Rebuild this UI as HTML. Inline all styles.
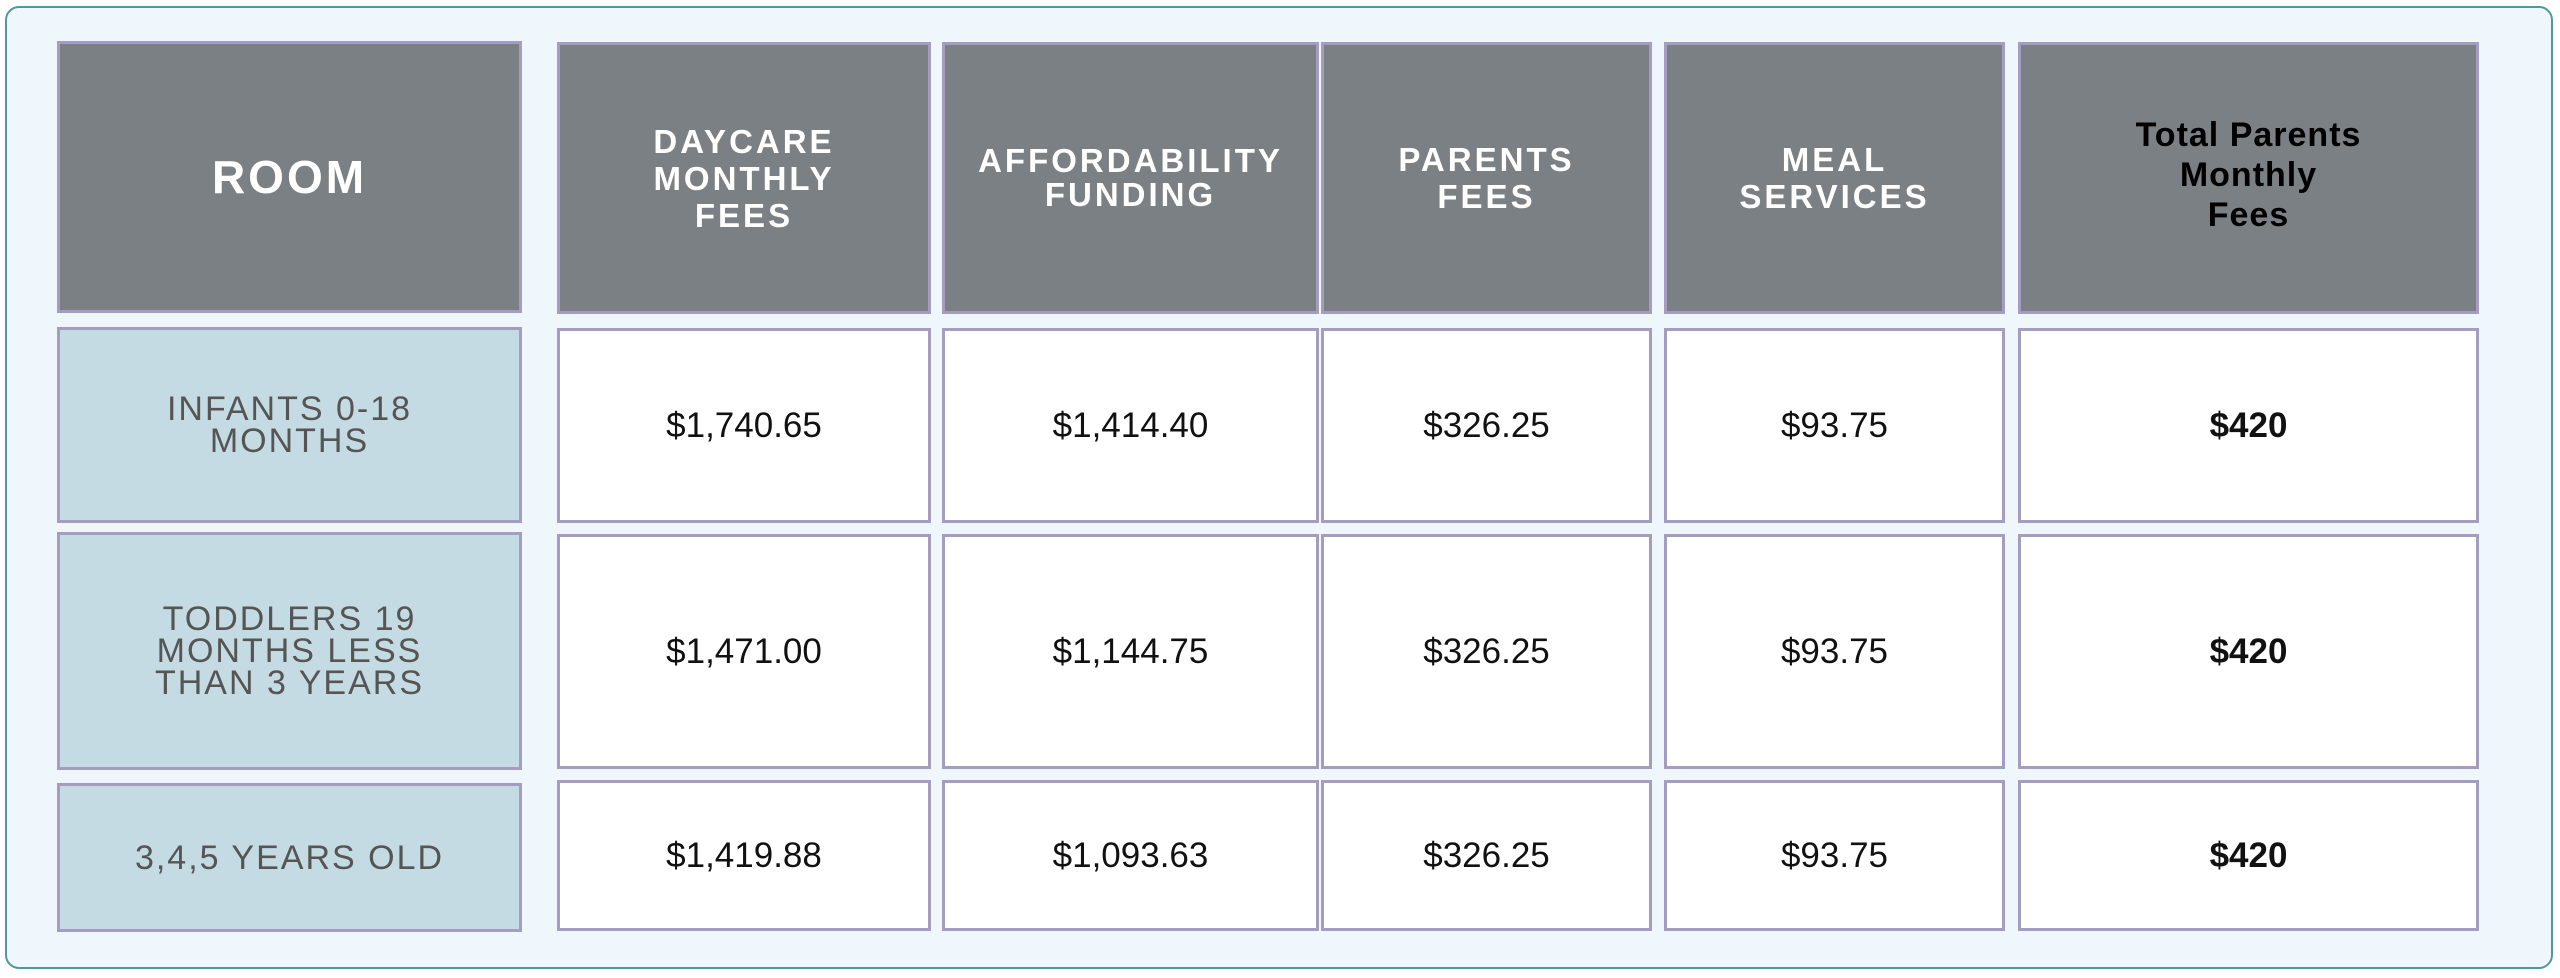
<!DOCTYPE html>
<html><head><meta charset="utf-8"><style>
*{margin:0;padding:0;box-sizing:border-box}
body{width:2560px;height:978px;background:#fff;position:relative;overflow:hidden;font-family:"Liberation Sans",sans-serif}
.outer{position:absolute;left:5px;top:6px;width:2548px;height:963px;background:#eff7fd;border:2px solid #4f9a97;border-radius:14px}
.c{position:absolute;display:flex;align-items:center;justify-content:center;text-align:center;border:3px solid #a59dc0}
.h{background:#7a8083;color:#fff;font-weight:bold;font-size:33px;letter-spacing:3px;line-height:37px}
.r{background:#c4dbe3;color:#555;font-size:34px;letter-spacing:2px;line-height:32px}
.v{background:#fff;color:#111;font-size:35px}
.b{font-weight:bold}
</style></head><body>
<div class="outer"></div>
<div class="c h" style="left:57px;top:41px;width:465px;height:272px;font-size:46px">ROOM</div>
<div class="c h" style="left:557px;top:42px;width:374px;height:272px">DAYCARE<br>MONTHLY<br>FEES</div>
<div class="c h" style="left:942px;top:42px;width:377px;height:272px;line-height:34px">AFFORDABILITY<br>FUNDING</div>
<div class="c h" style="left:1321px;top:42px;width:331px;height:272px">PARENTS<br>FEES</div>
<div class="c h" style="left:1664px;top:42px;width:341px;height:272px">MEAL<br>SERVICES</div>
<div class="c h" style="left:2018px;top:42px;width:461px;height:272px;color:#000;letter-spacing:1px;line-height:40px;font-size:34px;padding-bottom:6px">Total Parents<br>Monthly<br>Fees</div>
<div class="c r" style="left:57px;top:327px;width:465px;height:196px">INFANTS 0-18<br>MONTHS</div>
<div class="c v" style="left:557px;top:328px;width:374px;height:195px">$1,740.65</div>
<div class="c v" style="left:942px;top:328px;width:377px;height:195px">$1,414.40</div>
<div class="c v" style="left:1321px;top:328px;width:331px;height:195px">$326.25</div>
<div class="c v" style="left:1664px;top:328px;width:341px;height:195px">$93.75</div>
<div class="c v b" style="left:2018px;top:328px;width:461px;height:195px">$420</div>
<div class="c r" style="left:57px;top:532px;width:465px;height:238px">TODDLERS 19<br>MONTHS LESS<br>THAN 3 YEARS</div>
<div class="c v" style="left:557px;top:534px;width:374px;height:235px">$1,471.00</div>
<div class="c v" style="left:942px;top:534px;width:377px;height:235px">$1,144.75</div>
<div class="c v" style="left:1321px;top:534px;width:331px;height:235px">$326.25</div>
<div class="c v" style="left:1664px;top:534px;width:341px;height:235px">$93.75</div>
<div class="c v b" style="left:2018px;top:534px;width:461px;height:235px">$420</div>
<div class="c r" style="left:57px;top:783px;width:465px;height:149px">3,4,5 YEARS OLD</div>
<div class="c v" style="left:557px;top:780px;width:374px;height:151px">$1,419.88</div>
<div class="c v" style="left:942px;top:780px;width:377px;height:151px">$1,093.63</div>
<div class="c v" style="left:1321px;top:780px;width:331px;height:151px">$326.25</div>
<div class="c v" style="left:1664px;top:780px;width:341px;height:151px">$93.75</div>
<div class="c v b" style="left:2018px;top:780px;width:461px;height:151px">$420</div>
</body></html>
